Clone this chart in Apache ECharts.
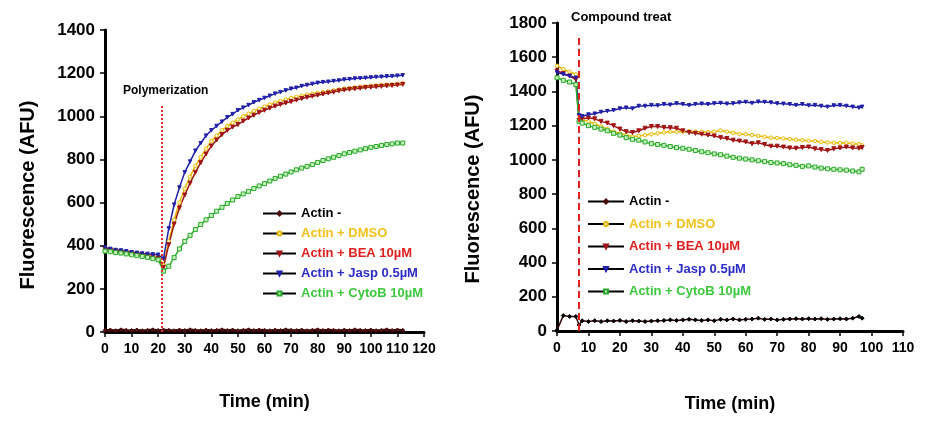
<!DOCTYPE html>
<html><head><meta charset="utf-8">
<script src="https://cdn.jsdelivr.net/npm/echarts@6/dist/echarts.min.js"></script>
<style>html,body{margin:0;padding:0;background:#fff}#c{width:936px;height:423px}</style>
</head><body><div id="c"></div>
<script>
// ---------- data ----------
const seriesNames = ['Actin -', 'Actin + DMSO', 'Actin + BEA 10\u00b5M', 'Actin + Jasp 0.5\u00b5M', 'Actin + CytoB 10\u00b5M'];

// Left panel: polymerization
const timeA = [0,2,4,6,8,10,12,14,16,18,20,22,24,26,28,30,32,34,36,38,40,42,44,46,48,50,52,54,56,58,60,62,64,66,68,70,72,74,76,78,80,82,84,86,88,90,92,94,96,98,100,102,104,106,108,110,112];
const actinA = [7,9,6,10,8,7,9,6,8,10,7,9,8,6,9,7,10,8,6,9,7,8,10,7,9,6,8,10,7,9,8,6,9,7,10,8,7,9,6,8,10,7,9,8,6,9,7,10,8,7,9,6,8,10,7,9,8];
const dmsoA = [385,380,376,372,368,364,360,356,352,348,345,310,420,520,600,665,720,770,810,850,885,910,935,955,970,985,1000,1012,1025,1035,1045,1055,1063,1070,1078,1085,1090,1095,1100,1104,1108,1112,1116,1120,1124,1128,1131,1134,1137,1139,1141,1143,1145,1147,1148,1150,1152];
const beaA = [384,380,375,371,367,363,359,355,351,347,343,300,405,500,575,635,690,740,785,825,862,890,915,935,950,962,978,992,1005,1018,1028,1038,1047,1055,1062,1068,1075,1082,1088,1093,1098,1103,1108,1112,1118,1122,1125,1128,1130,1133,1135,1137,1139,1141,1143,1145,1148];
const jaspA = [392,385,380,378,374,370,367,364,362,360,358,340,480,590,670,740,790,840,875,910,935,955,975,995,1010,1028,1040,1052,1065,1075,1085,1095,1105,1112,1120,1128,1132,1140,1145,1150,1155,1158,1160,1163,1166,1170,1172,1175,1176,1178,1180,1182,1183,1185,1186,1188,1190];
const cytoA = [375,372,368,366,362,358,354,350,346,340,335,282,305,345,385,420,448,475,498,520,540,560,578,596,612,628,640,652,665,677,688,700,712,722,732,742,752,760,768,776,786,795,803,810,818,826,832,838,844,850,856,860,865,869,872,876,876];

// Right panel: compound treatment
const timeB = [0,2,4,6,7,8,10,12,14,16,18,20,22,24,26,28,30,32,34,36,38,40,42,44,46,48,50,52,54,56,58,60,62,64,66,68,70,72,74,76,78,80,82,84,86,88,90,92,94,96,97];
const actinB = [5,90,85,85,35,60,55,60,55,60,58,62,55,60,58,55,58,60,62,65,62,65,68,65,62,65,60,68,65,70,65,68,70,75,68,70,65,68,70,72,70,72,70,72,68,70,72,70,75,85,75];
const dmsoB = [1550,1530,1515,1500,1240,1235,1225,1210,1195,1180,1165,1155,1145,1135,1140,1145,1150,1155,1160,1165,1165,1165,1168,1165,1165,1162,1165,1172,1165,1158,1152,1150,1145,1140,1135,1130,1128,1125,1122,1118,1115,1112,1110,1105,1102,1100,1098,1100,1095,1092,1085];
const beaB = [1520,1505,1490,1470,1230,1240,1245,1240,1225,1215,1200,1180,1165,1160,1170,1185,1195,1195,1190,1188,1185,1170,1160,1155,1150,1145,1140,1130,1125,1115,1110,1105,1095,1100,1090,1080,1080,1075,1070,1068,1072,1075,1065,1060,1055,1065,1070,1075,1070,1068,1072];
const jaspB = [1510,1500,1490,1480,1260,1255,1265,1270,1280,1285,1290,1300,1305,1300,1315,1315,1320,1318,1325,1322,1330,1325,1320,1325,1328,1325,1330,1332,1328,1330,1335,1338,1332,1340,1338,1335,1330,1328,1325,1320,1325,1318,1320,1315,1310,1318,1320,1315,1310,1305,1310];
const cytoB = [1480,1465,1455,1440,1225,1215,1200,1190,1180,1170,1155,1145,1130,1120,1115,1105,1095,1090,1085,1078,1072,1068,1062,1055,1048,1042,1035,1030,1022,1015,1010,1005,1000,995,990,985,982,978,972,968,962,965,958,952,948,945,942,940,935,930,945];

const polyTime = 21.5, treatTime = 7;

// ---------- styles ----------
const FONT = '"Liberation Sans",Arial,sans-serif';
const styles = [
  {line:'#3a0a0a', sym:'diamond', size:4, fill:'#000', border:'#000', text:'#000'},
  {line:'#e8b800', sym:'circle', size:3.5, fill:'#fffbe0', border:'#e8b800', text:'#f2c21a'},
  {line:'#a01515', sym:'triangle', rot:180, size:4, fill:'#a01515', border:'#a01515', text:'#e0201e'},
  {line:'#2020a8', sym:'triangle', rot:180, size:3.5, fill:'#2020a8', border:'#2020a8', text:'#2c2cc8'},
  {line:'#28b028', sym:'rect', size:4, fill:'#c8f0c0', border:'#28a828', text:'#3cc83c'}
];
function zip(t, v){ return t.map((x,i)=>[x, v[i]]); }

function mkSeries(t, arrs, xi, mark){
  return arrs.map((v,i)=>{
    const s = styles[i];
    const o = {
      name: seriesNames[i], type:'line', xAxisIndex:xi, yAxisIndex:xi,
      data: zip(t, v), symbol:s.sym, symbolRotate:s.rot||0, symbolSize:s.size,
      showAllSymbol:true, animation:false,
      lineStyle:{color:s.line, width:(i===0 && xi===0)?2.5:1.5},
      itemStyle:{color:s.fill, borderColor:s.border, borderWidth:1},
      emphasis:{disabled:true}, z: 3
    };
    if (i===0 && xi===0) o.itemStyle = {color:'#4a0c0c', borderColor:'#4a0c0c', borderWidth:1};
    if (i===0 && mark) o.markLine = mark;
    return o;
  });
}

function xAxis(gi, max){
  return {type:'value', gridIndex:gi, min:0, max:max, interval:10,
    name:'Time (min)', nameLocation:'middle', nameGap: gi===0?61:64,
    nameTextStyle:{fontFamily:FONT, fontWeight:'bold', fontSize:18, color:'#000'},
    axisLine:{lineStyle:{color:'#000', width:3}},
    axisTick:{show:true, length:5, lineStyle:{color:'#000', width:1.5}},
    axisLabel:{fontFamily:FONT, fontWeight:'bold', fontSize:14, color:'#000', margin:10, showMaxLabel:true, showMinLabel:true},
    splitLine:{show:false}};
}
function yAxis(gi, max){
  return {type:'value', gridIndex:gi, min:0, max:max, interval:200,
    axisLine:{show:true, lineStyle:{color:'#000', width:3}},
    axisTick:{show:true, length:5, lineStyle:{color:'#000', width:1.5}},
    axisLabel:{fontFamily:FONT, fontWeight:'bold', fontSize:17, color:'#000', margin:10, formatter:(v)=>String(v)},
    splitLine:{show:false}};
}
function legend(left, top, gap, w){
  return {orient:'vertical', left:left, top:top, itemGap:gap, itemWidth:w, itemHeight:5,
    data: seriesNames.map((n,i)=>({name:n, textStyle:{color:styles[i].text}})),
    textStyle:{fontFamily:FONT, fontWeight:'bold', fontSize:13},
    lineStyle:{color:'#000', width:2}, selectedMode:false};
}

const markA = {silent:true, symbol:['none','none'], label:{show:false},
  lineStyle:{color:'#e03030', type:[2,2], width:2},
  data:[[{coord:[polyTime,0]},{coord:[polyTime,1050]}]]};
const markB = {silent:true, symbol:['none','none'], label:{show:false},
  lineStyle:{color:'#e02020', type:[7,4], width:2},
  data:[[{coord:[treatTime,0]},{coord:[treatTime,1730]}]]};

const chart = echarts.init(document.getElementById('c'), null, {renderer:'canvas'});
chart.setOption({
  backgroundColor:'#fff', animation:false,
  grid:[{left:105, top:30, width:319, height:302},{left:557, top:23, width:346, height:308}],
  xAxis:[xAxis(0,120), xAxis(1,110)],
  yAxis:[yAxis(0,1400), yAxis(1,1800)],
  legend:[legend(257, 202, 7, 33), legend(582, 190, 9.5, 36)],
  graphic:[
    {type:'text', left:123, top:85, style:{text:'Polymerization', font:'bold 12px '+FONT, fill:'#000'}},
    {type:'text', left:571, top:11, style:{text:'Compound treat', font:'bold 13px '+FONT, fill:'#000'}},
    {type:'text', x:28, y:195, rotation:Math.PI/2, style:{text:'Fluorescence (AFU)', font:'bold 20px '+FONT, fill:'#000', textAlign:'center', textVerticalAlign:'middle'}},
    {type:'text', x:473, y:189, rotation:Math.PI/2, style:{text:'Fluorescence (AFU)', font:'bold 20px '+FONT, fill:'#000', textAlign:'center', textVerticalAlign:'middle'}}
  ],
  series:[...mkSeries(timeA,[actinA,dmsoA,beaA,jaspA,cytoA],0,markA), ...mkSeries(timeB,[actinB,dmsoB,beaB,jaspB,cytoB],1,markB)]
});
</script></body></html>
